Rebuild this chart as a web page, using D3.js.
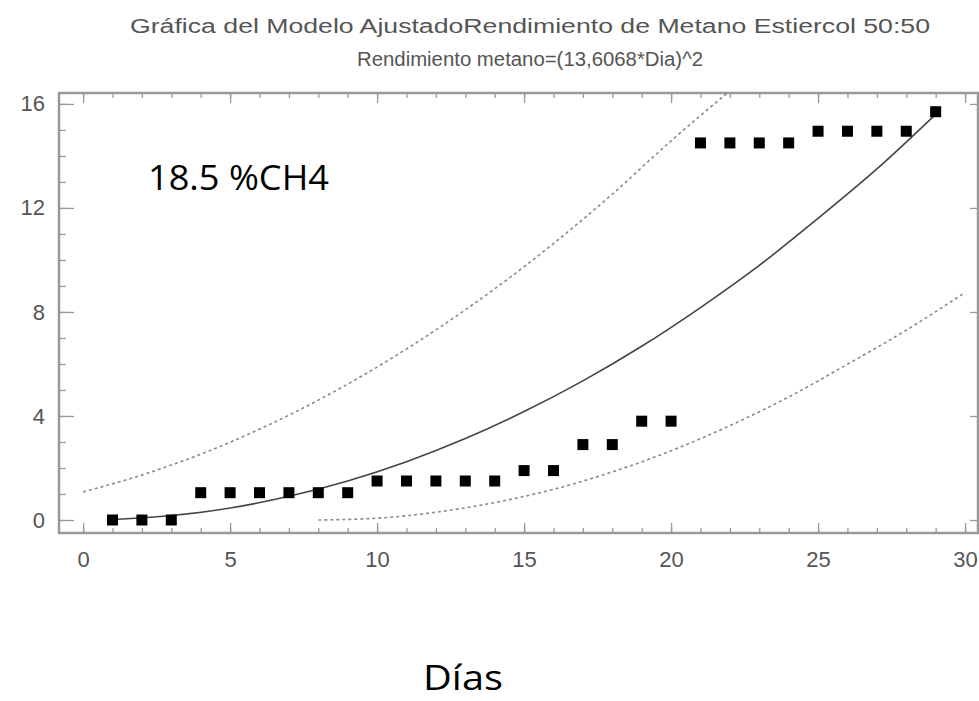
<!DOCTYPE html>
<html>
<head>
<meta charset="utf-8">
<script src="https://cdn.jsdelivr.net/npm/d3@7"></script>
<style>
  body { margin: 0; background: #fff; }
  svg { display: block; }
</style>
</head>
<body>
<div id="chart"></div>
<script>
const titleLines = [
  "Gráfica del Modelo AjustadoRendimiento de Metano Estiercol 50:50",
  "Rendimiento metano=(13,6068*Dia)^2",
];
const xTicks = [0, 5, 10, 15, 20, 25, 30];
const yTicks = [0, 4, 8, 12, 16];

// observed values
const days = [
  1, 2, 3, 4, 5, 6, 7, 8, 9, 10, 11, 12, 13, 14, 15, 16, 17, 18, 19, 20, 21,
  22, 23, 24, 25, 26, 27, 28, 29,
];
const methane = [
  0, 0, 0, 1.05, 1.05, 1.05, 1.05, 1.05, 1.05, 1.5, 1.5, 1.5, 1.5, 1.5, 1.9,
  1.9, 2.9, 2.9, 3.8, 3.8, 14.5, 14.5, 14.5, 14.5, 14.95, 14.95, 14.95, 14.95,
  15.7,
];

// fitted curve and limits
const fitX = [1, 3, 5, 7, 9, 11, 13, 15, 17, 19, 21, 23, 25, 27, 29];
const fitY = [
  0.02, 0.17, 0.46, 0.91, 1.5, 2.24, 3.13, 4.17, 5.35, 6.68, 8.17, 9.79, 11.6,
  13.5, 15.6,
];
const upperX = [0, 2, 4, 6, 8, 10, 12, 14, 16, 18, 20, 22];
const upperY = [
  1.08, 1.73, 2.53, 3.49, 4.61, 5.88, 7.31, 8.89, 10.63, 12.53, 14.58, 16.5,
];
const lowerX = [8, 10, 12, 14, 16, 18, 20, 22, 24, 26, 28, 30];
const lowerY = [
  0.0, 0.07, 0.3, 0.67, 1.18, 1.85, 2.66, 3.63, 4.73, 5.99, 7.3, 8.75,
];

const W = 979,
  H = 701;
const frame = { left: 59, right: 978, top: 93, bottom: 533 };

const svg = d3
  .select("#chart")
  .append("svg")
  .attr("width", W)
  .attr("height", H);

var x = d3
  .scaleLinear()
  .domain([-0.82, 30.44])
  .range([frame.left, frame.right]);
var y = d3
  .scaleLinear()
  .domain([-0.5, 16.42])
  .range([frame.bottom, frame.top]);

// titles
svg
  .append("text")
  .attr("x", 530)
  .attr("y", 33)
  .attr("text-anchor", "middle")
  .attr("font-family", "Liberation Sans, Arial, sans-serif")
  .attr("font-size", 20)
  .attr("fill", "#555")
  .attr("textLength", 800)
  .attr("lengthAdjust", "spacingAndGlyphs")
  .text(titleLines[0]);

svg
  .append("text")
  .attr("x", 530)
  .attr("y", 66)
  .attr("text-anchor", "middle")
  .attr("font-family", "Liberation Sans, Arial, sans-serif")
  .attr("font-size", 20)
  .attr("fill", "#555")
  .attr("textLength", 346)
  .attr("lengthAdjust", "spacingAndGlyphs")
  .text(titleLines[1]);

svg
  .append("clipPath")
  .attr("id", "plotClip")
  .append("rect")
  .attr("x", frame.left)
  .attr("y", frame.top)
  .attr("width", frame.right - frame.left)
  .attr("height", frame.bottom - frame.top);

const minorX = d3.range(0, 31, 1);
const minorY = d3.range(0, 17, 1);
const axisColor = "#999";

function styleAxis(g) {
  g.select(".domain").remove();
  g.selectAll("line").attr("stroke", axisColor).attr("stroke-width", 1.3);
}

// minor ticks
svg
  .append("g")
  .attr("transform", "translate(0," + frame.bottom + ")")
  .call(d3.axisTop(x).tickValues(minorX).tickSize(5).tickFormat(""))
  .call(styleAxis);
svg
  .append("g")
  .attr("transform", "translate(0," + frame.top + ")")
  .call(d3.axisBottom(x).tickValues(minorX).tickSize(5).tickFormat(""))
  .call(styleAxis);
svg
  .append("g")
  .attr("transform", "translate(" + frame.left + ",0)")
  .call(d3.axisRight(y).tickValues(minorY).tickSize(7).tickFormat(""))
  .call(styleAxis);

// major ticks
svg
  .append("g")
  .attr("transform", "translate(0," + frame.bottom + ")")
  .call(d3.axisTop(x).tickValues(xTicks).tickSize(10).tickFormat(""))
  .call(styleAxis);
svg
  .append("g")
  .attr("transform", "translate(0," + frame.top + ")")
  .call(d3.axisBottom(x).tickValues(xTicks).tickSize(10).tickFormat(""))
  .call(styleAxis);
svg
  .append("g")
  .attr("transform", "translate(" + frame.left + ",0)")
  .call(d3.axisRight(y).tickValues(yTicks).tickSize(15).tickFormat(""))
  .call(styleAxis);
svg
  .append("g")
  .attr("transform", "translate(" + frame.right + ",0)")
  .call(d3.axisLeft(y).tickValues(yTicks).tickSize(8).tickFormat(""))
  .call(styleAxis);

// tick labels
svg
  .append("g")
  .attr("transform", "translate(0," + frame.bottom + ")")
  .call(d3.axisBottom(x).tickValues(xTicks).tickSize(0).tickPadding(18))
  .call((g) => g.select(".domain").remove())
  .selectAll("text")
  .attr("font-family", "Liberation Sans, Arial, sans-serif")
  .attr("font-size", 22)
  .attr("fill", "#555");

svg
  .append("g")
  .attr("transform", "translate(" + frame.left + ",0)")
  .call(d3.axisLeft(y).tickValues(yTicks).tickSize(0).tickPadding(14))
  .call((g) => g.select(".domain").remove())
  .selectAll("text")
  .attr("font-family", "Liberation Sans, Arial, sans-serif")
  .attr("font-size", 22)
  .attr("fill", "#555");

// frame
svg
  .append("rect")
  .attr("x", frame.left)
  .attr("y", frame.top)
  .attr("width", frame.right - frame.left)
  .attr("height", frame.bottom - frame.top)
  .attr("fill", "none")
  .attr("stroke", axisColor)
  .attr("stroke-width", 2.5);

const plot = svg.append("g").attr("clip-path", "url(#plotClip)");

function toPts(xs, ys) {
  return xs.map((d, i) => [d, ys[i]]);
}

var line = d3
  .line()
  .curve(d3.curveMonotoneX)
  .x((d) => x(d[0]))
  .y((d) => y(d[1]));

plot
  .append("path")
  .attr("d", line(toPts(upperX, upperY)))
  .attr("fill", "none")
  .attr("stroke", "#8a8a8a")
  .attr("stroke-width", 1.6)
  .attr("stroke-dasharray", "3,3");

plot
  .append("path")
  .attr("d", line(toPts(lowerX, lowerY)))
  .attr("fill", "none")
  .attr("stroke", "#8a8a8a")
  .attr("stroke-width", 1.6)
  .attr("stroke-dasharray", "3,3");

plot
  .append("path")
  .attr("d", line(toPts(fitX, fitY)))
  .attr("fill", "none")
  .attr("stroke", "#444")
  .attr("stroke-width", 1.6);

const sq = 11;
plot
  .selectAll(".obs")
  .data(toPts(days, methane))
  .enter()
  .append("rect")
  .attr("class", "obs")
  .attr("x", (d) => x(d[0]) - sq / 2)
  .attr("y", (d) => y(d[1]) - sq / 2)
  .attr("width", sq)
  .attr("height", sq)
  .attr("fill", "#000");

// annotation
svg
  .append("text")
  .attr("x", 148)
  .attr("y", 190)
  .attr("font-family", "Open Sans, Lato, sans-serif")
  .attr("font-size", 34)
  .attr("fill", "#000")
  .attr("textLength", 181)
  .attr("lengthAdjust", "spacingAndGlyphs")
  .text("18.5 %CH4");

// x axis title
svg
  .append("text")
  .attr("x", 463)
  .attr("y", 690)
  .attr("text-anchor", "middle")
  .attr("font-family", "Open Sans, Lato, sans-serif")
  .attr("font-size", 34)
  .attr("fill", "#000")
  .attr("textLength", 80)
  .attr("lengthAdjust", "spacingAndGlyphs")
  .text("Días");
</script>
</body>
</html>
